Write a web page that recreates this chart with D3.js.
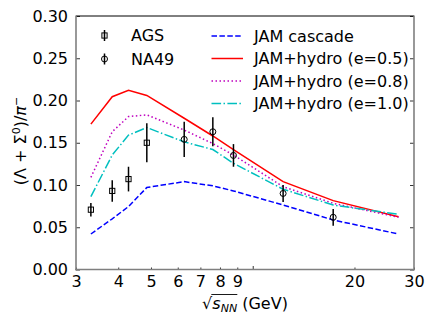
<!DOCTYPE html>
<html><head><meta charset="utf-8">
<script src="https://cdn.jsdelivr.net/npm/d3@7"></script>
<style>body{margin:0;background:#fff}svg{display:block;font-family:"DejaVu Sans",sans-serif}</style>
</head><body><svg id="c" width="436" height="327"></svg>
<script>
// ---- data ----
const energies = [3.32, 3.84, 4.29, 4.86, 6.27, 7.62, 8.77, 12.3, 17.3, 27.0];
const jamCascade = [0.042, 0.060, 0.0745, 0.097, 0.104, 0.099, 0.093, 0.0763, 0.0586, 0.042];
const hydro05 = [0.172, 0.2045, 0.212, 0.206, 0.179, 0.158, 0.142, 0.104, 0.0815, 0.0625];
const hydro08 = [0.109, 0.163, 0.181, 0.183, 0.165, 0.149, 0.1355, 0.098, 0.0783, 0.0618];
const hydro10 = [0.0862, 0.1355, 0.159, 0.168, 0.151, 0.142, 0.1257, 0.095, 0.0763, 0.0653];
const agsX = [3.32, 3.84, 4.29, 4.86];
const agsY = [0.0708, 0.093, 0.107, 0.150];
const agsErr = [0.008, 0.0127, 0.0146, 0.023];
const na49X = [6.27, 7.62, 8.77, 12.3, 17.3];
const na49Y = [0.154, 0.163, 0.135, 0.090, 0.0618];
const na49Err = [0.021, 0.0172, 0.0134, 0.010, 0.0099];
const xTickLabels = [3, 4, 5, 6, 7, 8, 9, 20, 30];
const yTicks = [0, 0.05, 0.10, 0.15, 0.20, 0.25, 0.30];

const series = [
  {name: "JAM cascade", values: jamCascade, color: "#0000ff", dash: "5.5,2.4"},
  {name: "JAM+hydro (e=0.5)", values: hydro05, color: "#ff0000", dash: null},
  {name: "JAM+hydro (e=0.8)", values: hydro08, color: "#bf00bf", dash: "1.5,2.5"},
  {name: "JAM+hydro (e=1.0)", values: hydro10, color: "#00bfbf", dash: "9.6,2.4,1.5,2.4"}
];

const svg = d3.select("#c");
const L = 76, R = 414, T = 16, B = 269.5;
const x = d3.scaleLog().domain([3, 30]).range([L, R]);
const y = d3.scaleLinear().domain([0, 0.30]).range([B, T]);

// curves
const line = d3.line().x((d, i) => x(energies[i])).y(d => y(d));
series.forEach(s => {
  svg.append("path").datum(s.values).attr("d", line)
    .attr("fill", "none").attr("stroke", s.color).attr("stroke-width", 1.5)
    .attr("stroke-dasharray", s.dash);
});

// data points
function errPoints(xs, ys, es, shape) {
  const g = svg.append("g");
  xs.forEach((xv, i) => {
    g.append("line").attr("x1", x(xv)).attr("x2", x(xv))
      .attr("y1", y(ys[i] - es[i])).attr("y2", y(ys[i] + es[i]))
      .attr("stroke", "#000").attr("stroke-width", 1.5);
    drawMarker(g, x(xv), y(ys[i]), shape);
  });
}
function drawMarker(g, cx, cy, shape) {
  if (shape === "square") {
    g.append("rect").attr("x", cx - 2.6).attr("y", cy - 2.6).attr("width", 5.2).attr("height", 5.2)
      .attr("fill", "none").attr("stroke", "#000").attr("stroke-width", 1);
  } else {
    g.append("circle").attr("cx", cx).attr("cy", cy).attr("r", 3)
      .attr("fill", "none").attr("stroke", "#000").attr("stroke-width", 1);
  }
}
errPoints(agsX, agsY, agsErr, "square");
errPoints(na49X, na49Y, na49Err, "circle");

// axes
const xAxis = d3.axisBottom(x).tickValues([3,4,5,6,7,8,9,20,30]).tickSizeInner(-2).tickSizeOuter(0).tickPadding(6)
  .tickFormat(d => xTickLabels.includes(d) ? String(d) : "");
const gx = svg.append("g").attr("transform", `translate(0,${B})`).call(xAxis);
gx.select(".domain").remove();
gx.selectAll(".tick line").attr("stroke", "#000").attr("stroke-width", 0.8);
gx.selectAll(".tick text").attr("font-size", 16).attr("fill", "#000").attr("font-family", "DejaVu Sans");
const gx10 = svg.append("g").attr("transform", `translate(0,${B})`)
  .call(d3.axisBottom(x).tickValues([10]).tickSizeInner(-3.5).tickSizeOuter(0).tickFormat(""));
gx10.select(".domain").remove();
gx10.selectAll(".tick line").attr("stroke", "#000").attr("stroke-width", 0.8);

const yAxis = d3.axisLeft(y).tickValues(yTicks).tickSizeInner(-4).tickSizeOuter(0).tickPadding(8)
  .tickFormat(d3.format(".2f"));
const gy = svg.append("g").attr("transform", `translate(${L},0)`).call(yAxis);
gy.select(".domain").remove();
gy.selectAll(".tick line").attr("stroke", "#000").attr("stroke-width", 0.8);
gy.selectAll(".tick text").attr("font-size", 16).attr("fill", "#000").attr("font-family", "DejaVu Sans");
const gy2 = svg.append("g").attr("transform", `translate(${R},0)`)
  .call(d3.axisRight(y).tickValues(yTicks).tickSizeInner(-4).tickSizeOuter(0).tickFormat(""));
gy2.select(".domain").remove();
gy2.selectAll(".tick line").attr("stroke", "#000").attr("stroke-width", 0.8);

// spines
svg.append("line").attr("x1", L).attr("x2", R).attr("y1", T).attr("y2", T).attr("stroke", "#000").attr("stroke-width", 1);
svg.append("line").attr("x1", L).attr("x2", L).attr("y1", T - 0.5).attr("y2", B + 0.8).attr("stroke", "#7f7f7f").attr("stroke-width", 1.6);
svg.append("line").attr("x1", R).attr("x2", R).attr("y1", T - 0.5).attr("y2", B + 0.8).attr("stroke", "#7f7f7f").attr("stroke-width", 1.6);
svg.append("line").attr("x1", L - 0.8).attr("x2", R + 0.8).attr("y1", B).attr("y2", B).attr("stroke", "#7f7f7f").attr("stroke-width", 1.6);

// axis labels
const xl = svg.append("text").attr("x", 245).attr("y", 309).attr("text-anchor", "middle")
  .attr("font-size", 16).attr("fill", "#000");
xl.append("tspan").text("\u221A");
xl.append("tspan").attr("font-style", "italic").text("s");
xl.append("tspan").attr("font-style", "italic").attr("font-size", 11).attr("dy", 3).text("NN");
xl.append("tspan").attr("dy", -3).text(" (GeV)");
// overbar of the radical
const xlBox = xl.node().getBBox();
const sqrtW = (() => { const t = svg.append("text").attr("font-size", 16).text("\u221A"); const w = t.node().getComputedTextLength(); t.remove(); return w; })();
svg.append("line").attr("x1", xlBox.x + sqrtW - 1).attr("x2", xlBox.x + sqrtW + 25)
  .attr("y1", 294.5).attr("y2", 294.5).attr("stroke", "#000").attr("stroke-width", 0.9);

const yl = svg.append("text").attr("transform", "translate(26,141) rotate(-90)")
  .attr("text-anchor", "middle").attr("font-size", 16).attr("fill", "#000");
yl.append("tspan").text("(\u039B + \u03A3");
yl.append("tspan").attr("font-size", 11).attr("dy", -6).text("0");
yl.append("tspan").attr("dy", 6).text(")/");
yl.append("tspan").attr("font-style", "italic").text("\u03C0");
yl.append("tspan").attr("font-size", 11).attr("dy", -6).text("\u2212");

// legends
const leg1 = [{name: "AGS", shape: "square"}, {name: "NA49", shape: "circle"}];
leg1.forEach((d, i) => {
  const cy = 35.5 + i * 23.5;
  svg.append("line").attr("x1", 104.5).attr("x2", 104.5).attr("y1", cy - 5.5).attr("y2", cy + 5.5)
    .attr("stroke", "#000").attr("stroke-width", 1.5);
  drawMarker(svg, 104.5, cy, d.shape);
  svg.append("text").attr("x", 131).attr("y", cy).attr("dy", "0.35em").attr("font-size", 16)
    .attr("fill", "#000").text(d.name);
});
series.forEach((s, i) => {
  const cy = 36 + i * 22.5;
  svg.append("line").attr("x1", 211.5).attr("x2", 243).attr("y1", cy).attr("y2", cy)
    .attr("stroke", s.color).attr("stroke-width", 1.5).attr("stroke-dasharray", s.dash);
  svg.append("text").attr("x", 254).attr("y", cy).attr("dy", "0.35em").attr("font-size", 16)
    .attr("fill", "#000").text(s.name);
});
</script></body></html>
